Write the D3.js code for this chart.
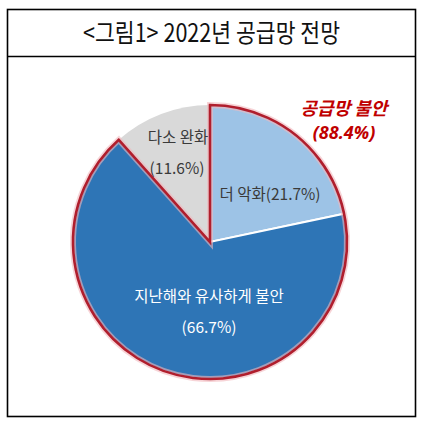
<!DOCTYPE html>
<html><head><meta charset="utf-8">
<script src="https://cdn.jsdelivr.net/npm/d3@7"></script>
<style>body{margin:0;background:#fff}svg{display:block}</style>
</head><body>
<svg id="c" width="424" height="425"></svg>
<script>
const title = "<그림1> 2022년 공급망 전망";
const categories = ["더 악화", "지난해와 유사하게 불안", "다소 완화"];
const values = [21.7, 66.7, 11.6];
const colors = ["#9dc3e6", "#2e75b6", "#d9d9d9"];
const groupLabel = ["공급망 불안", "(88.4%)"];

const svg = d3.select("#c");
const font = "'Noto Sans CJK KR','Noto Sans',sans-serif";

// frame
svg.append("rect").attr("x",7.5).attr("y",9.5).attr("width",408).attr("height",407)
  .attr("fill","none").attr("stroke","#000").attr("stroke-width",1.6);
svg.append("line").attr("x1",7.5).attr("x2",415.5).attr("y1",56.5).attr("y2",56.5)
  .attr("stroke","#000").attr("stroke-width",1.6);
svg.append("text").attr("x",83).attr("y",41.5).attr("font-family",font).attr("font-size",25)
  .attr("textLength",257).attr("lengthAdjust","spacingAndGlyphs").attr("fill","#111").text(title);

const cx = 210, cy = 242, R = 137;
const g = svg.append("g").attr("transform",`translate(${cx},${cy})`);
const pie = d3.pie().sort(null).value(d=>d);
const arcs = pie(values);
const arc = d3.arc().innerRadius(0).outerRadius(R);

g.selectAll("path.slice").data(arcs).join("path").attr("class","slice")
  .attr("d",arc).attr("fill",(d,i)=>colors[i])
  .attr("stroke","#fff").attr("stroke-width",(d,i)=>i===2?0:2);

// red outline around the "unstable" group (first two slices)
const grp = {startAngle: arcs[0].startAngle, endAngle: arcs[1].endAngle};
g.append("path").attr("d",arc(grp))
  .attr("fill","none").attr("stroke","#f2b8bc").attr("stroke-width",6).attr("stroke-linejoin","miter").attr("opacity",0.6);
g.append("path").attr("d",arc(grp))
  .attr("fill","none").attr("stroke","#b01e2d").attr("stroke-width",2.6).attr("stroke-linejoin","miter");

// labels
const lab = (x,y,t,fill,size) => svg.append("text").attr("x",x).attr("y",y)
  .attr("text-anchor","middle").attr("dominant-baseline","central")
  .attr("font-family",font).attr("font-size",size).attr("fill",fill).text(t);
lab(178,136,categories[2],"#3a3a3a",15.5);
lab(177,167,"("+values[2]+"%)","#3a3a3a",15.5);
lab(270,192.5,categories[0]+"("+values[0]+"%)","#3a3a3a",15.5);
lab(209,295,categories[1],"#fff",15.5);
lab(209,326,"("+values[1]+"%)","#fff",15.5);

const red = (y,t,f,s) => svg.append("text").attr("x",344).attr("y",y).attr("text-anchor","middle")
  .attr("font-family",f).attr("font-size",s).attr("font-weight","bold").attr("font-style","italic")
  .attr("fill","#c00000").text(t);
red(115,groupLabel[0],font,18);
red(138.5,groupLabel[1],"'Noto Sans',sans-serif",18);
</script>
</body></html>
